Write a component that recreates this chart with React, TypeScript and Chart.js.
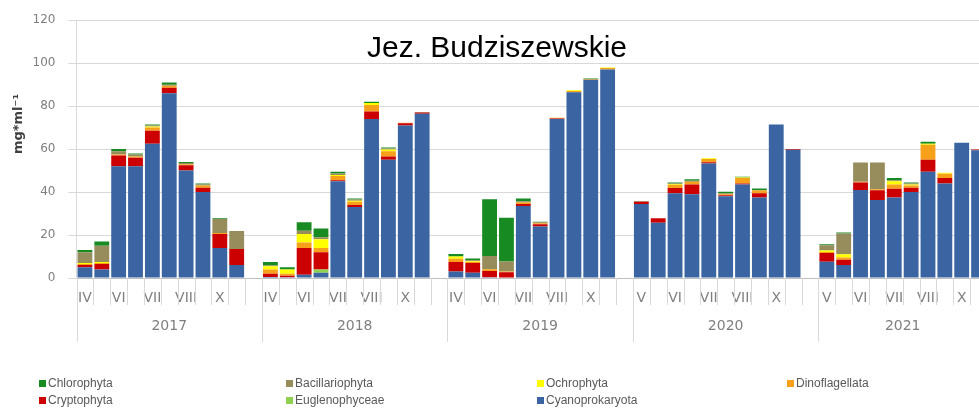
import React, { useEffect, useRef } from 'react';
import { Chart, registerables } from 'chart.js';

Chart.register(...registerables);

// ---- Data ----
const monthLabels = [
  'IV', '', 'VI', '', 'VII', '', 'VIII', '', 'X', '', '',
  'IV', '', 'VI', '', 'VII', '', 'VIII', '', 'X', '', '',
  'IV', '', 'VI', '', 'VII', '', 'VIII', '', 'X', '', '',
  'V', '', 'VI', '', 'VII', '', 'VIII', '', 'X', '', '',
  'V', '', 'VI', '', 'VII', '', 'VIII', '', 'X', '',
];

const yearLabels = ['2017', '2018', '2019', '2020', '2021'];
const slotsPerYear = 11;

const seriesNames = [
  'Chlorophyta', 'Bacillariophyta', 'Ochrophyta', 'Dinoflagellata',
  'Cryptophyta', 'Euglenophyceae', 'Cyanoprokaryota',
];
const seriesColors = [
  '#178a22', '#968c5c', '#ffff00', '#f7a11a',
  '#cc0000', '#8fd14f', '#3b65a2',
];

const cyanoprokaryota = [
  5, 4, 52, 52, 62.5, 86, 50, 40, 14, 6, null,
  0.5, 0.3, 1.5, 2.5, 45, 33, 74, 55, 71, 76.5, null,
  3, 2.5, 0.3, 0.2, 33.5, 24, 74, 86.5, 92.3, 97, null,
  34.5, 25.7, 39.4, 39, 53.3, 38, 43.5, 37.5, 71.5, 59.7, null,
  7.6, 6, 41, 36.3, 37.5, 40, 49.5, 44, 62.9, 59.5,
];
const euglenophyceae = [
  0, 0, 0, 0, 0, 0, 0, 0, 0, 0, null,
  0, 0, 0, 1.5, 0, 0, 0, 0, 0, 0, null,
  0, 0, 0, 0, 0, 0, 0, 0, 0, 0, null,
  0, 0, 0, 0, 0, 0, 0, 0, 0, 0, null,
  0, 0, 0, 0, 0, 0, 0, 0, 0, 0,
];
const cryptophyta = [
  1, 2.5, 5, 4, 6, 2.5, 2.5, 2, 6.5, 7.5, null,
  1.5, 0.7, 12.5, 8, 0.5, 1, 3.5, 1.5, 1, 0.5, null,
  4.5, 4.5, 3, 2.5, 1, 1, 0.3, 0, 0, 0, null,
  1, 2.1, 2.5, 4.5, 0.6, 0.5, 0.5, 2, 0, 0.3, null,
  4, 2.5, 3.5, 4.5, 4, 2, 5.5, 2.5, 0, 0.3,
];
const dinoflagellata = [
  0.5, 0.5, 0.5, 0.5, 1.5, 1, 0.5, 1, 0.5, 0, null,
  2, 1, 2.5, 2, 2, 1.5, 3, 2.5, 0.3, 0, null,
  1.5, 0.5, 0.8, 0.3, 0.7, 0.5, 0.3, 0.5, 0.3, 0.7, null,
  0, 0, 1.5, 1.3, 1.5, 0.5, 2.5, 1.2, 0, 0, null,
  0.5, 1, 0.3, 0.5, 2, 1, 7, 2, 0, 0,
];
const ochrophyta = [
  0.5, 0.5, 0, 0, 0.5, 0, 0, 0, 0, 0, null,
  1.5, 2, 4, 4, 0.5, 0.5, 1, 0.8, 0, 0, null,
  1, 0.3, 0, 0, 0, 0, 0, 0.4, 0, 0.3, null,
  0, 0, 0.3, 0, 0.3, 0, 0.3, 0, 0, 0, null,
  0.7, 1.5, 0, 0, 1.5, 0.5, 0.5, 0.5, 0, 0,
];
const bacillariophyta = [
  5, 7.5, 1.5, 1, 0.5, 0.5, 0.5, 0.5, 6.5, 8.4, null,
  0.3, 0, 1.5, 1, 0.7, 0.5, 0, 0.5, 0, 0.3, null,
  0, 0.5, 6.1, 4.7, 0.5, 0.4, 0, 0, 0, 0, null,
  0.3, 0, 0.3, 0.5, 0, 0.5, 0, 0.3, 0, 0, null,
  2.5, 9.7, 9, 12.5, 0.5, 0.5, 0, 0, 0, 0,
];
const chlorophyta = [
  1, 2, 1, 0.5, 0.5, 1, 0.5, 0.5, 0.3, 0, null,
  1.7, 1, 4, 4, 0.8, 0.5, 0.5, 0.5, 0, 0, null,
  1.2, 0.8, 26.4, 20.3, 1.3, 0.3, 0, 0, 0.3, 0, null,
  0, 0, 0.5, 0.7, 0, 0.6, 0.3, 0.7, 0, 0, null,
  0.4, 0.5, 0, 0, 1, 0.5, 0.9, 0, 0, 0,
];

const yTicks = [0, 20, 40, 60, 80, 100, 120];
const subtitle = 'Jez. Budziszewskie';
const yTitle = 'mg*ml⁻¹';

// series values in the same order as seriesNames
const seriesValues = [
  chlorophyta, bacillariophyta, ochrophyta, dinoflagellata,
  cryptophyta, euglenophyceae, cyanoprokaryota,
];

const CANVAS_W = 1020;
const CANVAS_H = 412;

const decorPlugin = {
  id: 'decor',
  afterDraw(chart: any) {
    const { ctx, chartArea } = chart;
    const xs = chart.scales.x;
    const n = monthLabels.length;
    const boundary = (i: number) => {
      if (i <= 0) return chartArea.left;
      if (i >= n) return chartArea.right;
      return (xs.getPixelForValue(i - 1) + xs.getPixelForValue(i)) / 2;
    };
    const bottom = chartArea.bottom;
    ctx.save();
    ctx.strokeStyle = '#d9d9d9';
    ctx.lineWidth = 1;
    for (let i = 0; i <= n; i++) {
      const isYear = i % slotsPerYear === 0 || i === n;
      const px = Math.round(boundary(i)) + 0.5;
      ctx.beginPath();
      ctx.moveTo(px, bottom);
      ctx.lineTo(px, bottom + (isYear ? 64 : 27));
      ctx.stroke();
    }
    // year labels
    ctx.fillStyle = '#7f7f7f';
    ctx.font = '14px "DejaVu Sans"';
    ctx.textAlign = 'center';
    ctx.textBaseline = 'middle';
    yearLabels.forEach((yl, k) => {
      const s = k * slotsPerYear;
      const e = Math.min(s + slotsPerYear, n);
      ctx.fillText(yl, (boundary(s) + boundary(e)) / 2, bottom + 48);
    });
    // subtitle
    ctx.fillStyle = '#000';
    ctx.font = '30px "Liberation Sans", Arial, sans-serif';
    ctx.textAlign = 'center';
    ctx.textBaseline = 'alphabetic';
    ctx.fillText(subtitle, 497, 57);
    // y title
    ctx.translate(19, 124);
    ctx.rotate(-Math.PI / 2);
    ctx.fillStyle = '#404040';
    ctx.font = 'bold 13px "DejaVu Sans"';
    ctx.textAlign = 'center';
    ctx.textBaseline = 'middle';
    ctx.fillText(yTitle, 0, 0);
    ctx.restore();
  },
};

const legendColX = [39, 286, 537, 787];
const legendRowY = [383, 400];

export default function App() {
  const ref = useRef<HTMLCanvasElement>(null);

  useEffect(() => {
    document.body.style.margin = '0';
    const stackOrder = [...seriesNames.keys()].reverse();
    const chart = new Chart(ref.current as HTMLCanvasElement, {
      type: 'bar',
      data: {
        labels: monthLabels,
        datasets: stackOrder.map((i) => ({
          label: seriesNames[i],
          data: seriesValues[i],
          backgroundColor: seriesColors[i],
          borderWidth: 0,
          barPercentage: 0.88,
          categoryPercentage: 1,
        })),
      },
      options: {
        responsive: false,
        animation: false,
        layout: { padding: { top: 20, right: CANVAS_W - 987, bottom: 0, left: 0 } },
        plugins: { legend: { display: false }, tooltip: { enabled: false } },
        scales: {
          x: {
            stacked: true,
            offset: true,
            grid: { display: false, drawTicks: false },
            border: { display: true, color: '#bfbfbf' },
            ticks: {
              autoSkip: false,
              maxRotation: 0,
              minRotation: 0,
              padding: 12,
              color: '#7f7f7f',
              font: { family: 'DejaVu Sans', size: 14 },
            },
            afterFit: (s: any) => { s.height = CANVAS_H - 278; },
          },
          y: {
            stacked: true,
            min: 0,
            max: 120,
            afterBuildTicks: (s: any) => { s.ticks = yTicks.map((v) => ({ value: v })); },
            grid: { color: '#d9d9d9', tickLength: 8 },
            border: { color: '#d9d9d9' },
            ticks: {
              padding: 13,
              color: '#7f7f7f',
              font: { family: 'DejaVu Sans', size: 12 },
            },
            afterFit: (s: any) => { s.width = 76.5; },
          },
        },
      },
      plugins: [decorPlugin],
    });
    return () => chart.destroy();
  }, []);

  return (
    <div style={{ position: 'relative', width: 979, height: 412, overflow: 'hidden', background: '#fff' }}>
      <canvas
        ref={ref}
        width={CANVAS_W}
        height={CANVAS_H}
        style={{ position: 'absolute', left: 0, top: 0, width: CANVAS_W, height: CANVAS_H }}
      />
      {seriesNames.map((name, i) => (
        <div
          key={name}
          style={{
            position: 'absolute',
            left: legendColX[i % 4],
            top: legendRowY[Math.floor(i / 4)] - 8,
            height: 16,
            display: 'flex',
            alignItems: 'center',
            fontFamily: '"Liberation Sans", Arial, sans-serif',
            fontSize: 12,
            color: '#595959',
            whiteSpace: 'nowrap',
          }}
        >
          <span style={{ display: 'inline-block', width: 7, height: 7, background: seriesColors[i], marginRight: 2 }} />
          {name}
        </div>
      ))}
    </div>
  );
}
